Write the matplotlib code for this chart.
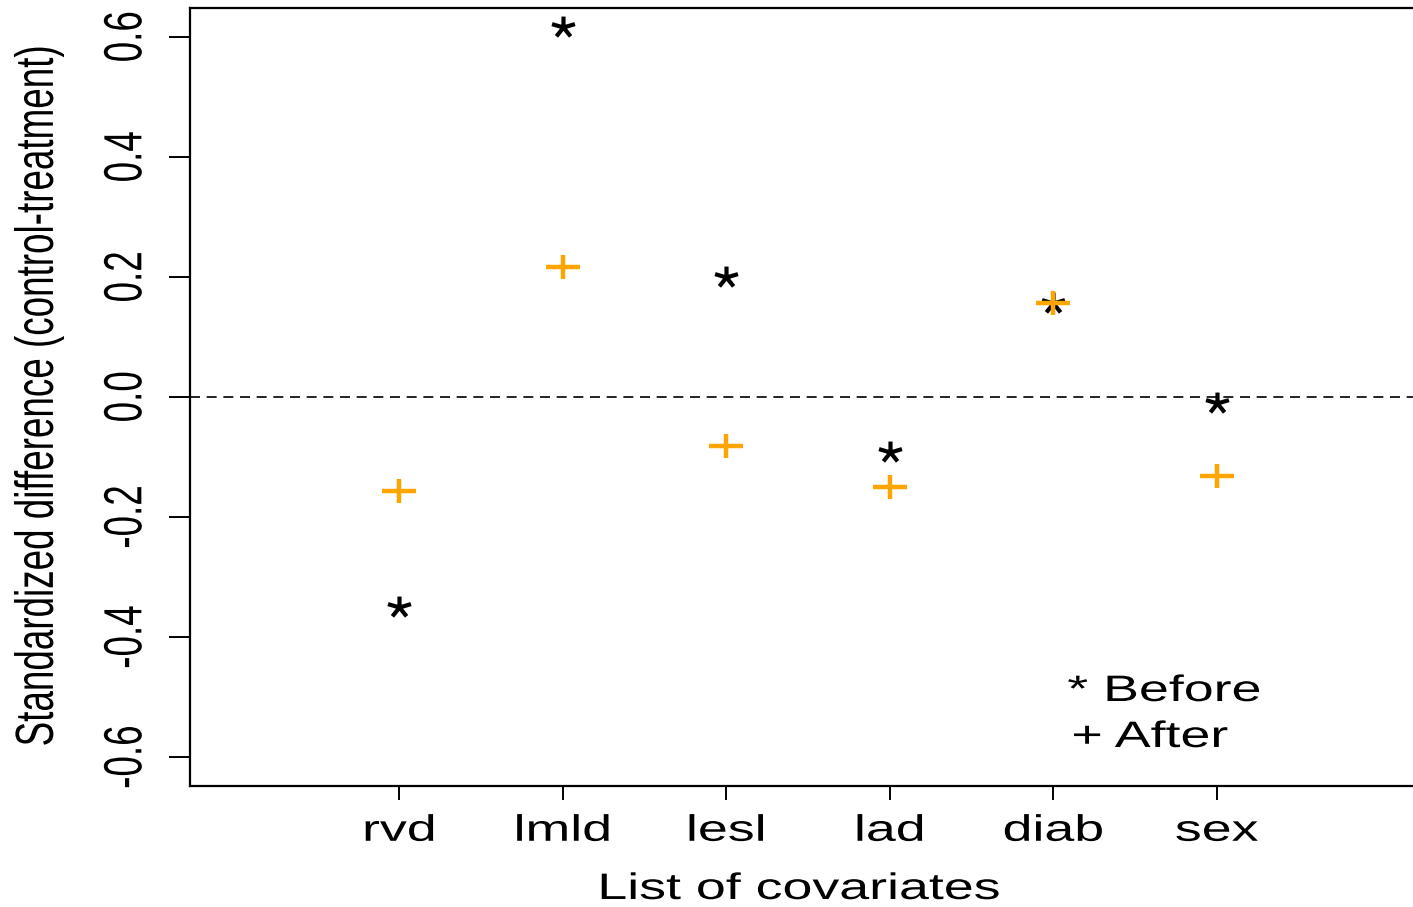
import matplotlib
matplotlib.use("Agg")
from matplotlib import pyplot as plt
from matplotlib.path import Path
from matplotlib.patheffects import AbstractPathEffect
from matplotlib.transforms import Affine2D
import numpy as np

# covariates and standardized differences (control - treatment)
covariates = ["rvd", "lmld", "lesl", "lad", "diab", "sex"]
before = [-0.350, 0.616, 0.200, -0.092, 0.157, -0.010]
after = [-0.156, 0.217, -0.082, -0.150, 0.157, -0.132]
yticks = [-0.6, -0.4, -0.2, 0.0, 0.2, 0.4, 0.6]

plt.rcParams['font.family'] = ['Liberation Sans', 'DejaVu Sans']
plt.rcParams['axes.unicode_minus'] = False
FS = 26.5
SX = 1.46  # the original picture is stretched sideways


class StretchX(AbstractPathEffect):
    """Widen a text about its own centre."""

    def __init__(self, sx):
        super().__init__()
        self.sx = sx

    def draw_path(self, renderer, gc, tpath, affine, rgbFace=None):
        ext = tpath.get_extents(affine)
        cx = 0.5 * (ext.x0 + ext.x1)
        affine = affine + Affine2D().translate(-cx, 0).scale(self.sx, 1).translate(cx, 0)
        renderer.draw_path(gc, tpath, affine, rgbFace)


wide = [StretchX(SX)]


def spoke_marker(angles, sx=1.0):
    verts, codes = [], []
    for a in angles:
        verts += [(0, 0), (sx * np.cos(a), np.sin(a))]
        codes += [Path.MOVETO, Path.LINETO]
    return Path(verts, codes)


star = spoke_marker(np.deg2rad([90, 162, 234, 306, 18]), sx=1.1)
plus = Path([(-1.5, 0), (1.5, 0), (0, -1), (0, 1)],
            [Path.MOVETO, Path.LINETO, Path.MOVETO, Path.LINETO])

fig = plt.figure(figsize=(14.13, 9.07), dpi=100)
ax = fig.add_axes([0.1345, 0.1334, 0.8747, 0.8578])

x = np.arange(1, len(covariates) + 1)
ax.plot(x, before, linestyle='none', marker=star, markersize=16.5,
        markeredgewidth=3, color='black')
ax.plot(x, after, linestyle='none', marker=plus, markersize=25,
        markeredgewidth=3.2, color='#FFA500')
ax.axhline(0, color='black', lw=1.2, linestyle=(0, (6, 4)))

ax.set_xlim(-0.28, 7.28)
ax.set_ylim(-0.648, 0.648)
ax.set_xticks(x)
ax.set_xticklabels(covariates, fontsize=FS)
ax.set_yticks(yticks)
ax.set_yticklabels(["%.1f" % v for v in yticks], fontsize=FS,
                   rotation=90, va='center')
ax.tick_params(axis='x', length=10, width=1.4, pad=10)
ax.tick_params(axis='y', length=15, width=1.4, pad=18.5)
for lab in ax.get_xticklabels() + ax.get_yticklabels():
    lab.set_path_effects(wide)
for s in ax.spines.values():
    s.set_linewidth(1.6)

ax.set_xlabel("List of covariates", fontsize=FS, va='baseline',
              path_effects=wide)
ax.xaxis.set_label_coords(0.4927, -0.1452)
ax.set_ylabel("Standardized difference (control-treatment)", fontsize=FS,
              ha='center', va='center', path_effects=wide)
ax.yaxis.set_label_coords(-0.1222, 0.5)

ax.text(1164, 701, "* Before", transform=None, fontsize=FS, ha='center',
        va='baseline', path_effects=wide)
ax.text(1150, 747, "+ After", transform=None, fontsize=FS, ha='center',
        va='baseline', path_effects=wide)
# pixel positions above are from the top; flip them into display coords
for t in ax.texts:
    px, py = t.get_position()
    t.set_position((px, fig.bbox.height - py))

fig.savefig("out.png", dpi=100)
